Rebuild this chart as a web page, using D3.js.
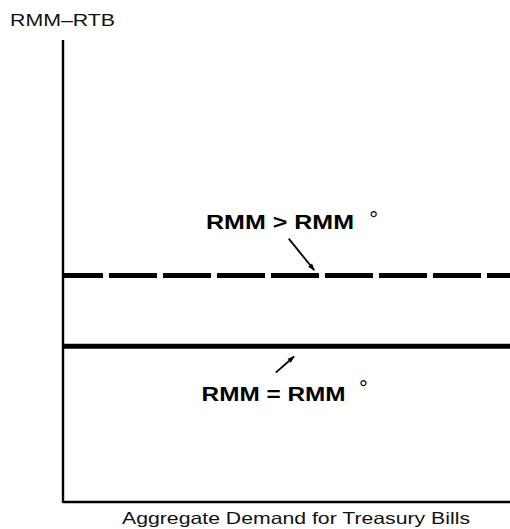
<!DOCTYPE html>
<html><head><meta charset="utf-8">
<script src="https://cdn.jsdelivr.net/npm/d3@7"></script>
<style>body{margin:0;background:#fff}svg{display:block}</style>
</head><body>
<svg id="c" width="510" height="529"></svg>
<script>
const seriesNames = ["RMM > RMM", "RMM = RMM"];
const seriesLevels = [4.9, 3.37];
const seriesDashed = [true, false];
const xLabel = "Aggregate Demand for Treasury Bills";
const yLabel = "RMM\u2013RTB";
const degreeMark = "°";
const labelPos = [[3.2, 5.90], [3.1, 2.19]];       // text start (x, baseline y) in data units
const labelWidth = [3.31, 3.22];                    // text width in data units
const degreePos = [[6.95, 5.95], [6.72, 2.29]];
const arrowFrom = [[5.05, 5.7], [4.76, 2.8]];
const arrowTo = [[5.62, 5.02], [5.17, 3.15]];

const svg = d3.select("#c");
const x = d3.scaleLinear().domain([0, 10]).range([63, 510]);
const y = d3.scaleLinear().domain([0, 10]).range([502, 40]);
const font = "Liberation Sans, Arial, sans-serif";

// axes
svg.append("line").attr("x1", x(0)).attr("x2", x(0)).attr("y1", y(10)).attr("y2", y(0) + 1)
  .attr("stroke", "#000").attr("stroke-width", 2.4);
svg.append("line").attr("x1", x(0)).attr("x2", x(10)).attr("y1", y(0)).attr("y2", y(0))
  .attr("stroke", "#000").attr("stroke-width", 2.4);

svg.append("text").attr("x", 10).attr("y", 26).text(yLabel)
  .attr("textLength", 105).attr("lengthAdjust", "spacingAndGlyphs")
  .attr("font-family", font).attr("font-size", 16.5).attr("fill", "#111");
svg.append("text").attr("x", 122).attr("y", 524).text(xLabel)
  .attr("textLength", 348).attr("lengthAdjust", "spacingAndGlyphs")
  .attr("font-family", font).attr("font-size", 16.5).attr("fill", "#111");

// horizontal lines
seriesLevels.forEach((v, i) => {
  svg.append("line").attr("x1", x(0)).attr("x2", x(10)).attr("y1", y(v)).attr("y2", y(v))
    .attr("stroke", "#000").attr("stroke-width", 5)
    .attr("stroke-dasharray", seriesDashed[i] ? "48,6" : null)
    .attr("stroke-dashoffset", seriesDashed[i] ? 8 : null);
});

// labels
seriesNames.forEach((n, i) => {
  svg.append("text").attr("x", x(labelPos[i][0])).attr("y", y(labelPos[i][1]))
    .attr("textLength", x(labelWidth[i]) - x(0)).attr("lengthAdjust", "spacingAndGlyphs")
    .attr("font-family", font).attr("font-weight", "bold")
    .attr("font-size", 21).attr("fill", "#000").text(n);
  svg.append("text").attr("x", x(degreePos[i][0])).attr("y", y(degreePos[i][1]))
    .attr("text-anchor", "middle")
    .attr("font-family", font).attr("font-size", 22).attr("fill", "#000").text(degreeMark);
});

// arrows
svg.append("defs").append("marker").attr("id", "ah").attr("viewBox", "0 0 10 10")
  .attr("refX", 9).attr("refY", 5).attr("markerWidth", 6).attr("markerHeight", 4)
  .attr("orient", "auto").append("path").attr("d", "M0,1.5L10,5L0,8.5Z").attr("fill", "#000");
arrowFrom.forEach((f, i) => {
  svg.append("line").attr("x1", x(f[0])).attr("y1", y(f[1]))
    .attr("x2", x(arrowTo[i][0])).attr("y2", y(arrowTo[i][1]))
    .attr("stroke", "#000").attr("stroke-width", 1.8).attr("marker-end", "url(#ah)");
});
</script>
</body></html>
